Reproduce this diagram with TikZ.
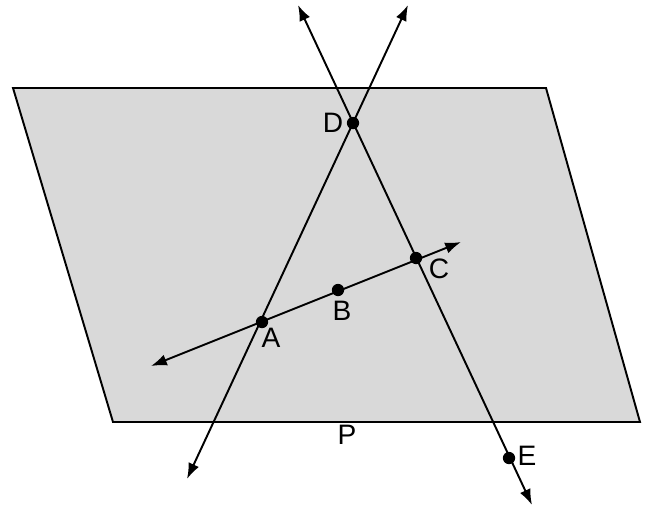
\documentclass[tikz,border=0pt]{standalone}
\usepackage{fontspec}
\setmainfont{Liberation Sans}
\usetikzlibrary{arrows.meta,positioning,calc}

\begin{document}
\begin{tikzpicture}[x=0.02cm,y=-0.02cm,
    dot/.style={circle,fill=black,inner sep=0pt,minimum size=7pt},
    lbl/.style={font=\fontsize{16}{19}\selectfont,inner sep=0pt},
    ray/.style={line width=1.1pt,{Latex[length=9pt,width=6.5pt]}-{Latex[length=9pt,width=6.5pt]}}]
    \useasboundingbox (0,0) rectangle (646,514);

    % Plane P
    \draw[fill=black!15, line width=1.1pt] (13,88) -- (546,88) -- (640,422) -- (113,422) -- cycle;
    \node[lbl] (P) at (347,435) {P};

    % Ends of the lines
    \coordinate (ad1) at (187,479);
    \coordinate (ad2) at (408,5);
    \coordinate (de1) at (298,5);
    \coordinate (de2) at (532,505);
    \coordinate (ac1) at (151,366);
    \coordinate (ac2) at (461,242);

    % Lines
    \draw[ray] (ad1) -- (ad2);
    \draw[ray] (de1) -- (de2);
    \draw[ray] (ac1) -- (ac2);

    % Points
    \node[dot] (A) at (262,322) {};
    \node[dot] (B) at (338,290) {};
    \node[dot] (C) at (416,258) {};
    \node[dot] (D) at (353,123) {};
    \node[dot] (E) at (509,458) {};

    % Point labels
    \node[lbl] (Alabel) at (271,338) {A};
    \node[lbl] (Blabel) at (342,311) {B};
    \node[lbl] (Clabel) at (439,269) {C};
    \node[lbl] (Dlabel) at (333,123) {D};
    \node[lbl] (Elabel) at (527,456) {E};
\end{tikzpicture}
\end{document}
